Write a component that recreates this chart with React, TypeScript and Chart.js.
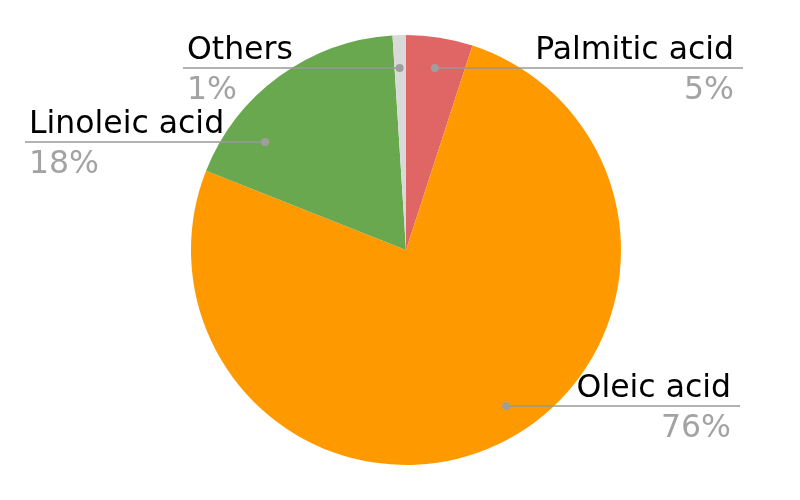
import React, { useEffect, useRef } from "react";
import { Chart, registerables } from "chart.js";

Chart.register(...registerables);

const categories = ["Palmitic acid", "Oleic acid", "Linoleic acid", "Others"];
const values = [5, 76, 18, 1];
const percentLabels = ["5%", "76%", "18%", "1%"];
const colors = ["#e06666", "#ff9900", "#6aa84f", "#d9d9d9"];

// label placement (layout only): angle of the dot in degrees clockwise from top,
// dot distance as fraction of radius, which side, where the leader line ends
const labelAngles = [9, 147.3, 307.5, 358];
const labelRadii = [0.857, 0.862, 0.826, 0.847];
const labelSides = ["right", "right", "left", "left"];
const lineEnds = [743, 740, 25, 183];

const FONT = "'DejaVu Sans', sans-serif";

const labelPlugin = {
  id: "pieLabels",
  afterDraw(chart: any) {
    const ctx = chart.ctx;
    const meta = chart.getDatasetMeta(0);
    meta.data.forEach((arc: any, i: number) => {
      const cx = arc.x;
      const cy = arc.y;
      const R = arc.outerRadius;
      const a = (labelAngles[i] * Math.PI) / 180;
      const r = R * labelRadii[i];
      const dx = cx + Math.sin(a) * r;
      const dy = cy - Math.cos(a) * r;
      const ex = lineEnds[i];
      ctx.save();
      ctx.strokeStyle = "#999999";
      ctx.lineWidth = 1.5;
      ctx.beginPath();
      ctx.moveTo(dx, dy);
      ctx.lineTo(ex, dy);
      ctx.stroke();
      ctx.fillStyle = "#9e9e9e";
      ctx.beginPath();
      ctx.arc(dx, dy, 4, 0, Math.PI * 2);
      ctx.fill();
      ctx.font = `31.5px ${FONT}`;
      ctx.textBaseline = "alphabetic";
      let tx: number;
      if (labelSides[i] === "right") {
        ctx.textAlign = "right";
        tx = ex - 9;
      } else {
        ctx.textAlign = "left";
        tx = ex + 4;
      }
      ctx.fillStyle = "#000000";
      ctx.fillText(categories[i], tx, dy - 9);
      ctx.fillStyle = "#a3a3a3";
      ctx.fillText(percentLabels[i], tx, dy + 31);
      ctx.restore();
    });
  },
};

export default function App() {
  const ref = useRef<HTMLCanvasElement>(null);
  useEffect(() => {
    document.body.style.margin = "0";
    const chart = new Chart(ref.current!, {
      type: "pie",
      data: {
        labels: categories,
        datasets: [
          {
            data: values,
            backgroundColor: colors,
            borderWidth: 0,
          },
        ],
      },
      options: {
        responsive: false,
        animation: false,
        layout: { padding: { top: 35, bottom: 35, left: 191, right: 179 } },
        plugins: {
          legend: { display: false },
          tooltip: { enabled: false },
        },
      },
      plugins: [labelPlugin],
    });
    return () => chart.destroy();
  }, []);
  return (
    <div style={{ width: 800, height: 500, background: "#fff" }}>
      <canvas ref={ref} width={800} height={500} />
    </div>
  );
}
